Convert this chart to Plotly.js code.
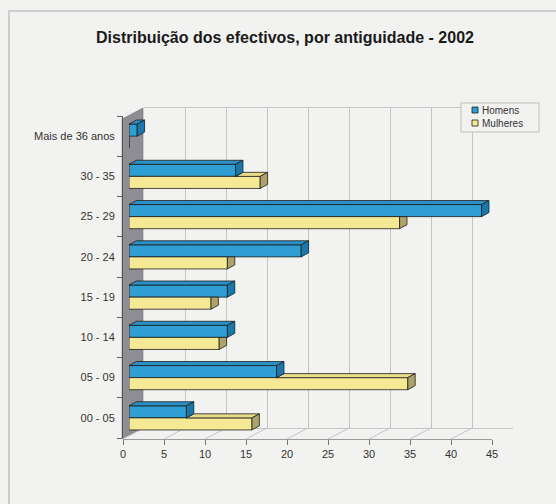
<!DOCTYPE html>
<html>
<head>
<meta charset="utf-8">
<script src="https://cdn.plot.ly/plotly-3.0.1.min.js"></script>
<style>html,body{margin:0;padding:0;background:#f2f2f0;}</style>
</head>
<body>
<div id="chart" style="width:556px;height:504px;"></div>
<script>
// ---- data ----
const categories = ['00 - 05', '05 - 09', '10 - 14', '15 - 19', '20 - 24', '25 - 29', '30 - 35', 'Mais de 36 anos'];
const homens   = [7, 18, 12, 12, 21, 43, 13, 1];
const mulheres = [15, 34, 11, 10, 12, 33, 16, 0];
const xTicks = [0, 5, 10, 15, 20, 25, 30, 35, 40, 45];
const seriesNames = ['Homens', 'Mulheres'];
const chartTitle = 'Distribuição dos efectivos, por antiguidade - 2002';

// ---- layout helpers (pixel -> paper) ----
const W = 556, H = 504;
const px = v => v / W;
const py = v => 1 - v / H;

const BAR_W = 0.3;      // bar thickness in category units
const DX = 0.9;         // 3D depth in value units
const DY = 0.1;         // 3D depth in category units
const FRONT_DEPTH_X = 21 / 8.2; // floor depth in value units

const COLORS = {
  hFront: '#2e9ed3', hTop: '#2a90c6', hCap: '#1c77a8',
  mFront: '#f6e995', mTop: '#e9dc8a', mCap: '#aca36c'
};

const yIdx = categories.map((c, i) => i);

function poly(points, xs, ys) {
  points.forEach(p => { xs.push(p[0]); ys.push(p[1]); });
  xs.push(points[0][0]); ys.push(points[0][1]);
  xs.push(null); ys.push(null);
}

const hTop = {x: [], y: []}, hCap = {x: [], y: []};
const mTop = {x: [], y: []}, mCap = {x: [], y: []};
yIdx.forEach(i => {
  const vh = homens[i], vm = mulheres[i];
  const y0h = i, y1h = i + BAR_W;
  const y0m = i - BAR_W, y1m = i;
  if (vh > 0) {
    poly([[0, y1h], [vh, y1h], [vh + DX, y1h + DY], [DX, y1h + DY]], hTop.x, hTop.y);
    poly([[vh, y0h], [vh, y1h], [vh + DX, y1h + DY], [vh + DX, y0h + DY]], hCap.x, hCap.y);
  }
  if (vm > 0) {
    if (vm > vh) {
      poly([[vh, y1m], [vm, y1m], [vm + DX, y1m + DY], [vh + DX, y1m + DY]], mTop.x, mTop.y);
      poly([[vm, y0m], [vm, y1m], [vm + DX, y1m + DY], [vm + DX, y0m + DY]], mCap.x, mCap.y);
    } else {
      poly([[vm, y0m], [vm, y1m], [vm + DX, y1m], [vm + DX, y0m + DY]], mCap.x, mCap.y);
    }
  }
});

const OUT = {color: '#1e1e1e', width: 0.8};
const font = 'Liberation Sans, Arial, sans-serif';

const data = [
  {type: 'bar', orientation: 'h', name: seriesNames[0], x: homens, y: yIdx,
   width: BAR_W, offset: 0, xaxis: 'x2', yaxis: 'y2',
   marker: {color: COLORS.hFront, line: OUT}, hoverinfo: 'x+name'},
  {type: 'bar', orientation: 'h', name: seriesNames[1], x: mulheres, y: yIdx,
   width: BAR_W, offset: -BAR_W, xaxis: 'x2', yaxis: 'y2',
   marker: {color: COLORS.mFront, line: OUT}, hoverinfo: 'x+name'},
  {type: 'scatter', mode: 'lines', x: mTop.x, y: mTop.y, fill: 'toself', fillcolor: COLORS.mTop,
   line: OUT, xaxis: 'x2', yaxis: 'y2', showlegend: false, hoverinfo: 'skip'},
  {type: 'scatter', mode: 'lines', x: mCap.x, y: mCap.y, fill: 'toself', fillcolor: COLORS.mCap,
   line: OUT, xaxis: 'x2', yaxis: 'y2', showlegend: false, hoverinfo: 'skip'},
  {type: 'scatter', mode: 'lines', x: hTop.x, y: hTop.y, fill: 'toself', fillcolor: COLORS.hTop,
   line: OUT, xaxis: 'x2', yaxis: 'y2', showlegend: false, hoverinfo: 'skip'},
  {type: 'scatter', mode: 'lines', x: hCap.x, y: hCap.y, fill: 'toself', fillcolor: COLORS.hCap,
   line: OUT, xaxis: 'x2', yaxis: 'y2', showlegend: false, hoverinfo: 'skip'},
  // carriers for the back-wall grid and the front axis
  {type: 'scatter', mode: 'none', x: [0], y: [0], xaxis: 'x', yaxis: 'y', showlegend: false, hoverinfo: 'skip'},
  {type: 'scatter', mode: 'none', x: [0], y: [0], xaxis: 'x3', yaxis: 'y3', showlegend: false, hoverinfo: 'skip'}
];

const shapes = [
  // chart frame
  {type: 'rect', xref: 'paper', yref: 'paper', x0: px(9), y0: py(11), x1: px(566), y1: py(514),
   line: {color: '#cdcdcd', width: 2}, fillcolor: 'rgba(0,0,0,0)', layer: 'below'},
  // left wall
  {type: 'path', xref: 'paper', yref: 'paper', layer: 'below',
   path: `M ${px(122)} ${py(439)} L ${px(143)} ${py(428)} L ${px(143)} ${py(108)} L ${px(122)} ${py(119)} Z`,
   fillcolor: '#8d8d93', line: {color: '#77777c', width: 0.6}},
  // legend box
  {type: 'rect', xref: 'paper', yref: 'paper', x0: px(461), y0: py(103), x1: px(539), y1: py(132),
   line: {color: '#bdbdbd', width: 1}, fillcolor: '#f2f2f0'}
];
// floor lines from front ticks to back wall
xTicks.forEach(t => {
  shapes.push({type: 'line', xref: 'x3', yref: 'paper', x0: t, y0: py(439), x1: t + FRONT_DEPTH_X, y1: py(428),
               line: {color: '#c4c4c4', width: 1}, layer: 'below'});
});

// legend entries (symbol + label)
const legendFill = [COLORS.hFront, COLORS.mFront];
const annotations = [];
seriesNames.forEach((name, k) => {
  const cy = 110 + k * 13;
  shapes.push({type: 'rect', xref: 'paper', yref: 'paper', x0: px(472), y0: py(cy + 3), x1: px(478), y1: py(cy - 3),
               fillcolor: legendFill[k], line: {color: '#1e1e1e', width: 0.8}});
  annotations.push({xref: 'paper', yref: 'paper', x: px(480), y: py(cy), xanchor: 'left', yanchor: 'middle',
                    text: name, showarrow: false, font: {family: font, size: 10, color: '#333'}});
});

const layout = {
  width: W, height: H, autosize: false,
  margin: {l: 0, r: 0, t: 0, b: 0, pad: 0},
  paper_bgcolor: '#f2f2f0', plot_bgcolor: 'rgba(0,0,0,0)',
  font: {family: font, color: '#333'},
  title: {text: chartTitle, x: px(285), xanchor: 'center', y: py(37), yanchor: 'middle',
          font: {family: font, size: 16, color: '#1a1a1a', weight: 'bold'}},
  barmode: 'overlay',
  showlegend: false,
  // back wall grid
  xaxis: {domain: [px(144), px(513)], range: [0, 45], anchor: 'y', tickvals: xTicks, showgrid: true,
          gridcolor: '#c4c4c4', gridwidth: 1, showticklabels: false, ticks: '', zeroline: false,
          showline: true, mirror: true, linecolor: '#c4c4c4', linewidth: 1, fixedrange: true},
  yaxis: {domain: [py(428), py(108)], range: [0, 1], anchor: 'x', visible: false, fixedrange: true},
  // bars
  xaxis2: {domain: [px(129), px(498)], range: [0, 45], anchor: 'y2', visible: false, fixedrange: true},
  yaxis2: {domain: [py(438), py(116)], range: [-0.5, categories.length - 0.5], anchor: 'free', position: px(122),
           tickvals: yIdx, ticktext: categories, ticks: 'outside', ticklen: 5, tickcolor: 'rgba(0,0,0,0)',
           minor: {tick0: 0.5, dtick: 1, ticks: 'outside', ticklen: 5, tickcolor: '#666', showgrid: false},
           showline: true, linecolor: '#555', linewidth: 1, showgrid: false, zeroline: false,
           tickfont: {family: font, size: 11, color: '#333'}, fixedrange: true},
  // front value axis
  xaxis3: {domain: [px(123), px(492)], range: [0, 45], anchor: 'y3', tickvals: xTicks, ticks: 'outside',
           ticklen: 5, tickcolor: '#777', showline: true, linecolor: '#9a9a9a', linewidth: 1,
           showgrid: false, zeroline: false, tickfont: {family: font, size: 11, color: '#333'}, fixedrange: true},
  yaxis3: {domain: [py(439), py(432)], range: [0, 1], anchor: 'x3', visible: false, fixedrange: true},
  shapes: shapes,
  annotations: annotations
};

Plotly.newPlot('chart', data, layout, {displayModeBar: false, staticPlot: true});
</script>
</body>
</html>
